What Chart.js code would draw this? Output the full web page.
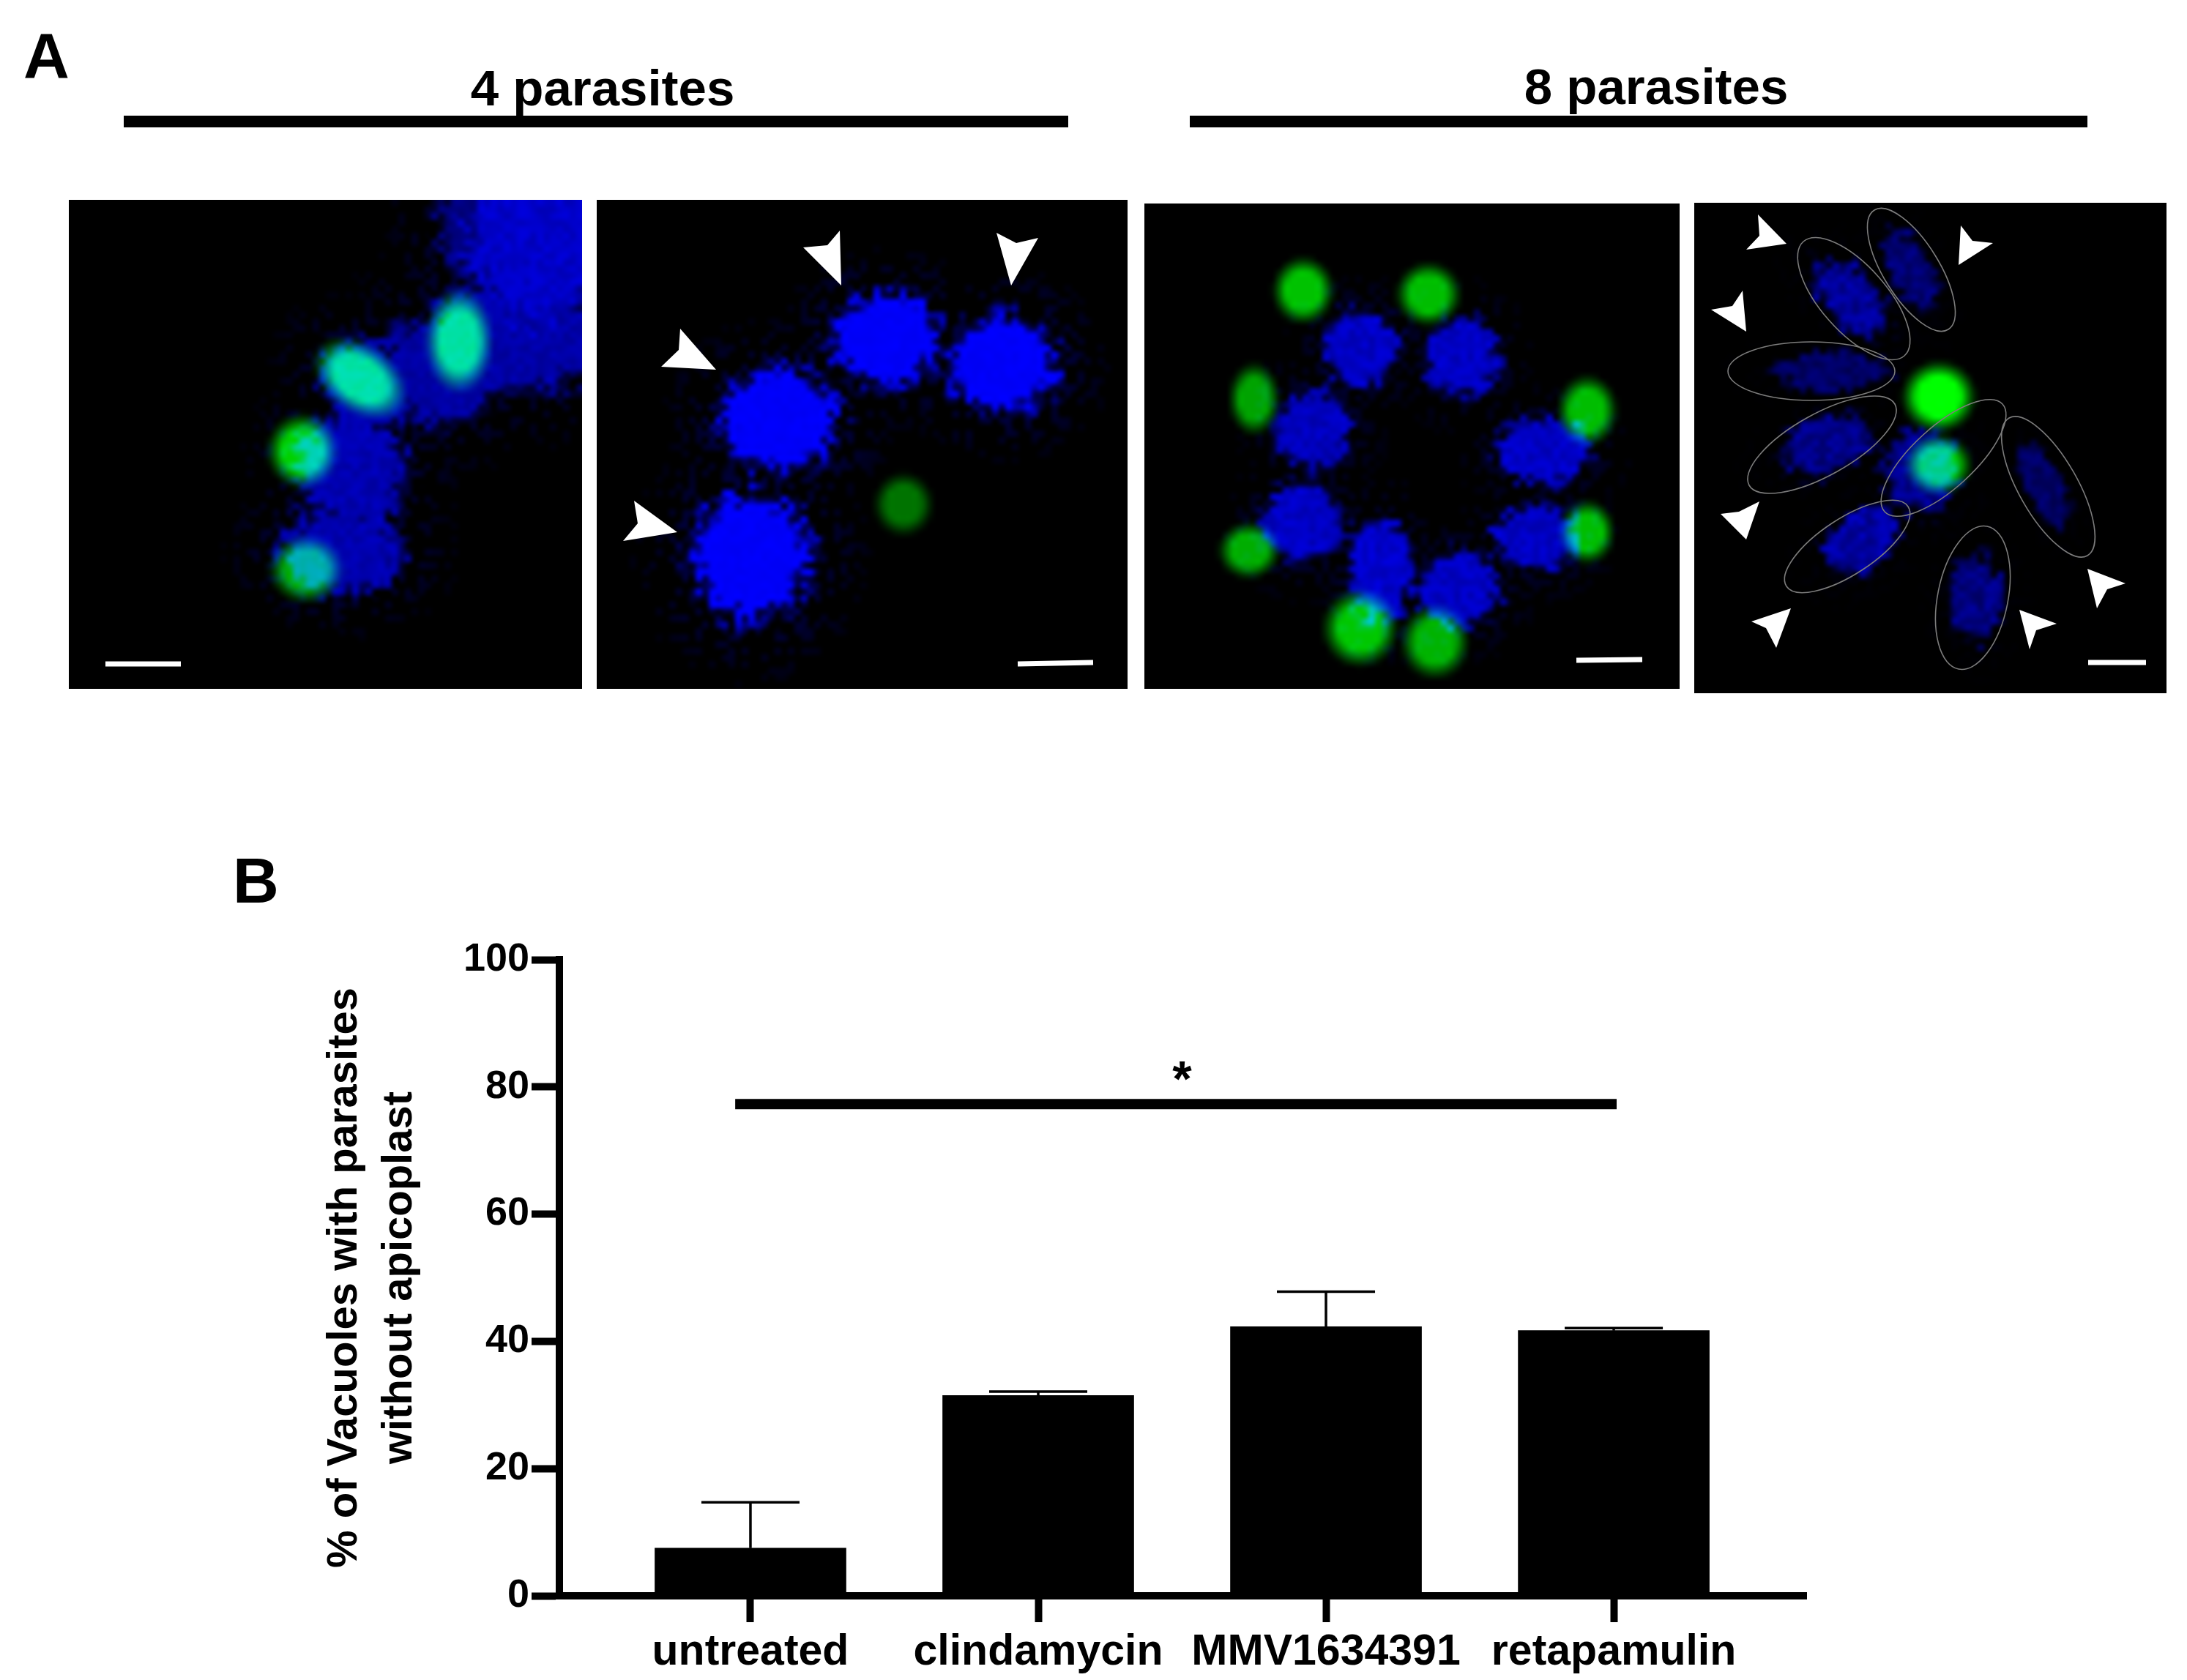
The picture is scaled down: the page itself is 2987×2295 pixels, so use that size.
<!DOCTYPE html>
<html><head><meta charset="utf-8">
<style>html,body{margin:0;padding:0;background:#fff}#wrap{position:relative;width:2987px;height:2295px;overflow:hidden}canvas{position:absolute;display:block}</style>
<script src="https://cdn.jsdelivr.net/npm/chart.js@4"></script>
</head><body><div id="wrap"><canvas id="main" width="2987" height="2295" style="left:0;top:0"></canvas></div>
<script>
// ---------- Panel B data ----------
const categories = ['untreated','clindamycin','MMV1634391','retapamulin'];
const meanValues = [7.5,31.5,42.3,41.7];
const errorValues = [7.2,0.6,5.5,0.4];
const yTicks = [0,20,40,60,80,100];
const yTitle = ['% of Vacuoles with parasites','without apicoplast'];
const sigLine = [[-0.053,77.3],[3.01,77.3]];
const sigMark = {x:1.5,y:81.5,text:'*'};
// ---------- Panel A micrograph features (image coords): x,y,rx,ry,angle,peak ----------
const blue1 = [[735,320,100,125,0,.86],[705,455,120,78,0,.72],[600,505,80,72,0,.7],[505,525,70,55,35,.72],[480,640,72,78,0,.76],[468,752,78,58,0,.76],[655,310,55,70,0,.55]];
const green1 = [[627,466,38,58,0,.88],[492,517,58,38,35,.88],[413,616,40,42,0,.82],[418,778,42,38,0,.68]];
const blue2 = [[1209,463,72,60,0,1],[1368,498,72,64,0,1],[1065,574,76,68,0,1],[1025,759,78,84,0,1]];
const green2 = [[1234,689,34,36,0,.45]];
const blue3 = [[1858,475,50,50,0,.85],[1997,488,48,52,0,.85],[1794,587,50,54,0,.82],[2108,616,60,44,0,.85],[1780,715,54,52,0,.85],[2098,734,56,44,0,.85],[1886,778,44,66,0,.88],[1992,804,54,50,0,.85]];
const green3 = [[1780,397,35,38,0,.76],[1951,402,37,36,0,.74],[1713,545,29,41,0,.64],[2168,561,34,40,0,.74],[2168,727,31,36,0,.74],[1706,752,35,32,0,.68],[1858,858,43,44,0,.78],[1960,877,39,42,0,.7]];
const blue4 = [[2528,408,62,36,48,.72],[2611,370,58,28,62,.55],[2505,507,74,26,0,.48],[2495,609,62,38,-20,.66],[2625,644,50,54,0,.7],[2791,663,60,24,62,.48],[2541,740,54,38,-38,.8],[2698,817,56,38,85,.62]];
const green4 = [[2648,542,42,40,0,1],[2648,635,38,34,0,.8]];
const outlines4 = [[2463,330,2601,486,45],[2560,287,2661,450,38],[2360,507,2588,507,40],[2389,663,2588,552,42],[2574,699,2735,552,42],[2744,571,2851,759,40],[2440,801,2606,692,38],[2675,914,2714,719,48]];
const arrows2 = [[[1149,390],[1097,338],[1130,335],[1147,315]],[[1381,390],[1361,318],[1388,332],[1418,325]],[[978,505],[903,501],[927,478],[929,449]],[[925,727],[851,739],[871,715],[866,684]]];
const arrows4 = [[[2440,333],[2385,341],[2403,322],[2401,293]],[[2675,362],[2722,332],[2694,329],[2678,308]],[[2385,453],[2337,423],[2366,418],[2380,397]],[[2385,737],[2350,702],[2375,699],[2403,685]],[[2446,831],[2392,849],[2412,858],[2426,885]],[[2758,833],[2809,852],[2781,861],[2772,887]],[[2851,777],[2903,797],[2878,805],[2864,831]]];
const bars1 = [[144,907,247,907]], bars2 = [[1390,907,1493,905]], bars3 = [[2153,902,2243,901]], bars4 = [[2852,905,2931,905]];
const panelBounds = [[94,795,273,941],[815,1540,273,941],[1563,2294,278,941],[2314,2959,277,947]];
const headers = [{text:'4 parasites',x:823,y:144},{text:'8 parasites',x:2262,y:142}];
const headerRules = [[169,1459,166],[1625,2851,166]];
const panelLetters = [{text:'A',x:32,y:106},{text:'B',x:318,y:1233}];

const FONT = '"Liberation Sans", Arial, sans-serif';
const noise=(i,j)=>{const s=Math.sin(i*127.1+j*311.7)*43758.5453;return s-Math.floor(s);};
const clamp=v=>Math.max(0,Math.min(1,v));
function normDist(b,px,py,sx,sy){
  const dx=px-sx(b[0]),dy=py-sy(b[1]),a=b[4]*Math.PI/180;
  const u=(dx*Math.cos(a)+dy*Math.sin(a))/b[2],v=(-dx*Math.sin(a)+dy*Math.cos(a))/b[3];
  return Math.sqrt(u*u+v*v);
}
const micrograph={id:'micrograph',
  beforeDatasetsDraw(chart,_a,o){
    const sx=v=>chart.scales.x.getPixelForValue(v),sy=v=>chart.scales.y.getPixelForValue(v);
    const W=chart.width,H=chart.height,cell=9,cw=Math.ceil(W/cell),ch=Math.ceil(H/cell);
    const off=document.createElement('canvas');off.width=cw;off.height=ch;
    const c=off.getContext('2d'),img=c.createImageData(cw,ch);
    for(let j=0;j<ch;j++)for(let i=0;i<cw;i++){
      const px=(i+.5)*cell,py=(j+.5)*cell,n=noise(i+o.seed,j),m=1-o.mottle*noise(i*.5+3,j*.5+o.seed);
      let b=0,g=0;
      for(const s of o.blue){
        const d=normDist(s,px,py,sx,sy),dj=d*(.8+.45*n);
        b=Math.max(b,clamp((1.12-dj)/.2)*s[5]*m);
        if(d<2.1&&n>.74) b=Math.max(b,o.haze*s[5]*(1-d/2.4));
      }
      for(const s of o.green){
        const d=normDist(s,px,py,sx,sy);
        g=Math.max(g,clamp((Math.exp(-d*d)-.2)/.42)*s[5]);
      }
      const k=(j*cw+i)*4;
      img.data[k]=0;img.data[k+1]=Math.round(255*g);img.data[k+2]=Math.round(255*b);img.data[k+3]=255;
    }
    c.putImageData(img,0,0);
    const x=chart.ctx;x.save();x.fillStyle='#000';x.fillRect(0,0,W,H);
    x.imageSmoothingEnabled=true;x.imageSmoothingQuality='high';x.drawImage(off,0,0,cw*cell,ch*cell);
    x.strokeStyle='#7c7c7c';x.lineWidth=1.6;
    for(const e of o.outlines){
      const a=[sx(e[0]),sy(e[1])],b=[sx(e[2]),sy(e[3])];
      x.beginPath();x.ellipse((a[0]+b[0])/2,(a[1]+b[1])/2,Math.hypot(b[0]-a[0],b[1]-a[1])/2,e[4],Math.atan2(b[1]-a[1],b[0]-a[0]),0,Math.PI*2);x.stroke();
    }
    x.fillStyle='#fff';
    for(const t of o.arrows){x.beginPath();t.forEach((p,i)=>i?x.lineTo(sx(p[0]),sy(p[1])):x.moveTo(sx(p[0]),sy(p[1])));x.closePath();x.fill();}
    x.strokeStyle='#fff';x.lineWidth=7;
    for(const s of o.bars){x.beginPath();x.moveTo(sx(s[0]),sy(s[1]));x.lineTo(sx(s[2]),sy(s[3]));x.stroke();}
    x.restore();
  }
};
const panels=[[blue1,green1,[],[],bars1,.5,.18],[blue2,green2,[],arrows2,bars2,.45,.05],[blue3,green3,[],[],bars3,.35,.2],[blue4,green4,outlines4,arrows4,bars4,.1,.38]];
panels.forEach((p,i)=>{
  const [x0,x1,y0,y1]=panelBounds[i];
  const cv=document.createElement('canvas');cv.width=x1-x0;cv.height=y1-y0;cv.style.left=x0+'px';cv.style.top=y0+'px';
  document.getElementById('wrap').appendChild(cv);
  const pts=a=>a.map(b=>({x:b[0],y:b[1]}));
  new Chart(cv,{type:'scatter',plugins:[micrograph],data:{datasets:[{data:pts(p[0]),pointRadius:0},{data:pts(p[1]),pointRadius:0}]},
    options:{responsive:false,animation:false,layout:{padding:0},
      events:[],
      scales:{x:{type:'linear',display:false,min:x0,max:x1},y:{type:'linear',display:false,min:y0,max:y1,reverse:true}},
      plugins:{legend:{display:false},tooltip:{enabled:false},micrograph:{blue:p[0],green:p[1],outlines:p[2],arrows:p[3],bars:p[4],haze:p[5],mottle:p[6],seed:i*37}}}});
});

// ---------- Panel B ----------
const annotations={id:'annotations',
  afterDraw(chart){
    const c=chart.ctx,sx=chart.scales.x,sy=chart.scales.y;c.save();
    c.strokeStyle='#000';c.lineWidth=3.5;
    meanValues.forEach((m,i)=>{
      const x=sx.getPixelForValue(i),t=sy.getPixelForValue(m+errorValues[i]),b=sy.getPixelForValue(m);
      c.beginPath();c.moveTo(x,b);c.lineTo(x,t);c.moveTo(x-67,t);c.lineTo(x+67,t);c.stroke();
    });
    c.fillStyle='#000';c.textAlign='center';c.textBaseline='middle';c.font='bold 68px '+FONT;
    c.fillText(sigMark.text,sx.getPixelForValue(sigMark.x),sy.getPixelForValue(sigMark.y)+6);
    c.textBaseline='alphabetic';c.font='bold 69px '+FONT;
    headers.forEach(h=>c.fillText(h.text,h.x,h.y));
    headerRules.forEach(r=>c.fillRect(r[0],r[2]-8,r[1]-r[0],16));
    c.textAlign='left';c.font='bold 87px '+FONT;
    panelLetters.forEach(l=>c.fillText(l.text,l.x,l.y));
    c.restore();
  }};
new Chart(document.getElementById('main'),{
  plugins:[annotations],
  data:{datasets:[
    {type:'line',data:sigLine.map(p=>({x:p[0],y:p[1]})),borderColor:'#000',borderWidth:14,pointRadius:0,borderCapStyle:'butt',order:0},
    {type:'bar',data:categories.map((c,i)=>({x:i,y:meanValues[i]})),backgroundColor:'#000',barThickness:261,order:1}
  ]},
  options:{responsive:false,animation:false,events:[],
    layout:{padding:{left:0,right:520,top:1311,bottom:0}},
    scales:{
      x:{type:'linear',min:-0.664,max:3.669,offset:false,
        afterBuildTicks(s){s.ticks=categories.map((c,i)=>({value:i}));},
        afterFit(s){s.height=115;},
        grid:{offset:false,drawOnChartArea:false,drawTicks:true,tickLength:36,tickWidth:10,tickColor:'#000'},
        border:{display:true,color:'#000',width:10},
        ticks:{autoSkip:false,maxRotation:0,padding:6,color:'#000',font:{family:FONT,weight:'bold',size:59},callback:v=>categories[v]}},
      y:{type:'linear',min:0,max:100,
        afterBuildTicks(s){s.ticks=yTicks.map(v=>({value:v}));},
        afterFit(s){s.width=764;},
        grid:{drawOnChartArea:false,drawTicks:true,tickLength:38,tickWidth:10,tickColor:'#000'},
        border:{display:true,color:'#000',width:10},
        ticks:{padding:3,color:'#000',font:{family:FONT,weight:'bold',size:54}},
        title:{display:true,text:yTitle,color:'#000',font:{family:FONT,weight:'bold',size:58,lineHeight:1.3},padding:{top:433,bottom:0}}}
    },
    plugins:{legend:{display:false},tooltip:{enabled:false}}}
});
</script></body></html>
